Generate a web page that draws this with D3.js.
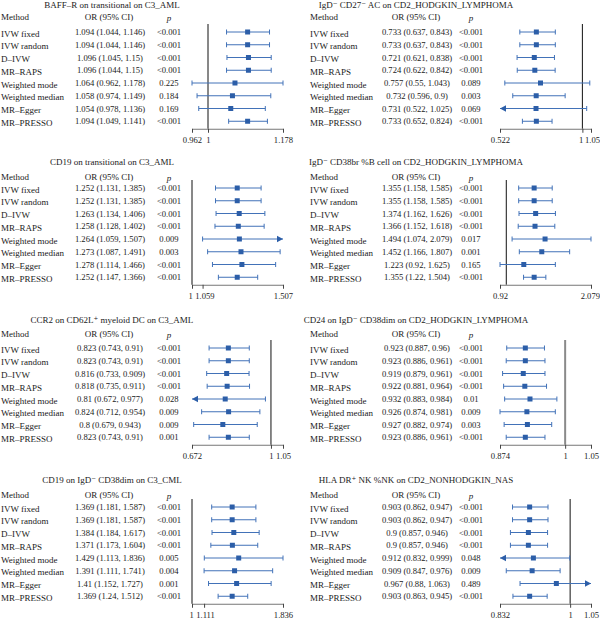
<!DOCTYPE html>
<html>
<head>
<meta charset="utf-8">
<script src="https://cdn.jsdelivr.net/npm/d3@7"></script>
<style>
  body { margin: 0; background: #fff; }
  text { font-family: "Liberation Serif", "DejaVu Serif", serif; fill: #1a1a1a; }
</style>
</head>
<body>
<div id="chart"></div>
<script>
// methods shared by every panel
const methods = ["IVW fixed", "IVW random", "D–IVW", "MR–RAPS", "Weighted mode", "Weighted median", "MR–Egger", "MR–PRESSO"];

const titles = [
  "BAFF–R on transitional on C3_AML",
  "IgD⁻ CD27⁻ AC on CD2_HODGKIN_LYMPHOMA",
  "CD19 on transitional on C3_AML",
  "IgD⁻ CD38br %B cell on CD2_HODGKIN_LYMPHOMA",
  "CCR2 on CD62L⁺ myeloid DC on C3_AML",
  "CD24 on IgD⁻ CD38dim on CD2_HODGKIN_LYMPHOMA",
  "CD19 on IgD⁻ CD38dim on C3_CML",
  "HLA DR⁺ NK %NK on CD2_NONHODGKIN_NAS"
];

// [OR, lower, upper, p] per method
const baffR = [[1.094, 1.044, 1.146, "<0.001"], [1.094, 1.044, 1.146, "<0.001"], [1.096, 1.045, 1.15, "<0.001"], [1.096, 1.044, 1.15, "<0.001"],
  [1.064, 0.962, 1.178, "0.225"], [1.058, 0.974, 1.149, "0.184"], [1.054, 0.978, 1.136, "0.169"], [1.094, 1.049, 1.141, "<0.001"]];
const igdCd27 = [[0.733, 0.637, 0.843, "<0.001"], [0.733, 0.637, 0.843, "<0.001"], [0.721, 0.621, 0.838, "<0.001"], [0.724, 0.622, 0.842, "<0.001"],
  [0.757, 0.55, 1.043, "0.089"], [0.732, 0.596, 0.9, "0.003"], [0.731, 0.522, 1.025, "0.069"], [0.733, 0.652, 0.824, "<0.001"]];
const cd19Trans = [[1.252, 1.131, 1.385, "<0.001"], [1.252, 1.131, 1.385, "<0.001"], [1.263, 1.134, 1.406, "<0.001"], [1.258, 1.128, 1.402, "<0.001"],
  [1.264, 1.059, 1.507, "0.009"], [1.273, 1.087, 1.491, "0.003"], [1.278, 1.114, 1.466, "<0.001"], [1.252, 1.147, 1.366, "<0.001"]];
const igdCd38br = [[1.355, 1.158, 1.585, "<0.001"], [1.355, 1.158, 1.585, "<0.001"], [1.374, 1.162, 1.626, "<0.001"], [1.366, 1.152, 1.618, "<0.001"],
  [1.494, 1.074, 2.079, "0.017"], [1.452, 1.166, 1.807, "0.001"], [1.223, 0.92, 1.625, "0.165"], [1.355, 1.22, 1.504, "<0.001"]];
const ccr2 = [[0.823, 0.743, 0.91, "<0.001"], [0.823, 0.743, 0.91, "<0.001"], [0.816, 0.733, 0.909, "<0.001"], [0.818, 0.735, 0.911, "<0.001"],
  [0.81, 0.672, 0.977, "0.028"], [0.824, 0.712, 0.954, "0.009"], [0.8, 0.679, 0.943, "0.009"], [0.823, 0.743, 0.91, "0.001"]];
const cd24 = [[0.923, 0.887, 0.96, "<0.001"], [0.923, 0.886, 0.961, "<0.001"], [0.919, 0.879, 0.961, "<0.001"], [0.922, 0.881, 0.964, "<0.001"],
  [0.932, 0.883, 0.984, "0.01"], [0.926, 0.874, 0.981, "0.009"], [0.927, 0.882, 0.974, "0.003"], [0.923, 0.886, 0.961, "<0.001"]];
const cd19Cml = [[1.369, 1.181, 1.587, "<0.001"], [1.369, 1.181, 1.587, "<0.001"], [1.384, 1.184, 1.617, "<0.001"], [1.371, 1.173, 1.604, "<0.001"],
  [1.429, 1.113, 1.836, "0.005"], [1.391, 1.111, 1.741, "0.004"], [1.41, 1.152, 1.727, "0.001"], [1.369, 1.24, 1.512, "<0.001"]];
const hlaDr = [[0.903, 0.862, 0.947, "<0.001"], [0.903, 0.862, 0.947, "<0.001"], [0.9, 0.857, 0.946, "<0.001"], [0.9, 0.857, 0.946, "<0.001"],
  [0.912, 0.832, 0.999, "0.048"], [0.909, 0.847, 0.976, "0.009"], [0.967, 0.88, 1.063, "0.489"], [0.903, 0.863, 0.945, "<0.001"]];

const panelRows = [baffR, igdCd27, cd19Trans, igdCd38br, ccr2, cd24, cd19Cml, hlaDr];

// axis tick values (first and last are the axis limits)
const tickSets = [
  [0.962, 1, 1.178], [0.522, 1, 1.05],
  [1, 1.059, 1.507], [0.92, 2.079],
  [0.672, 1, 1.05], [0.874, 1, 1.05],
  [1, 1.111, 1.836], [0.832, 1, 1.05]
];

// clipped intervals drawn with an arrow head: row index -> side
const arrowSets = [{}, { 6: "left" }, { 4: "right" }, {}, { 4: "left" }, {}, {}, { 4: "left", 6: "right" }];

const width = 600, height = 619;
// per row of panels: title baseline, header centre, first row centre
const titleY = [8, 165, 323, 483];
const headerY = [16.5, 177, 334, 494.5];
const rowStart = [32, 188, 348, 507];
const step = 12.75;
const lineColor = "#4272b8", boxColor = "#2c5ea8";

const svg = d3.select("#chart").append("svg")
  .attr("width", width).attr("height", height);

panelRows.forEach((rows, i) => {
  const col = i % 2, r = Math.floor(i / 2);
  const y0 = rowStart[r];
  const cols = col === 0
    ? { method: 1, or: 110, p: 169, title: 112, plot: [192, 283] }
    : { method: 310, or: 417, p: 471, title: 416, plot: [500, 591] };

  const ticks = tickSets[i];
  const x = d3.scaleLinear().domain(d3.extent(ticks)).range(cols.plot);
  const y = d3.scalePoint().domain(methods).range([y0, y0 + step * 7]);
  const axisY = y0 + step * 7 + 7.5;

  const g = svg.append("g");

  // title
  g.append("text")
    .attr("x", cols.title).attr("y", titleY[r])
    .attr("text-anchor", "middle").attr("font-size", 9)
    .text(titles[i]);

  // header
  const hy = headerY[r];
  g.append("text").attr("x", cols.method).attr("y", hy).attr("dy", "0.35em")
    .attr("font-size", 9).text("Method");
  g.append("text").attr("x", cols.or - 1).attr("y", hy).attr("dy", "0.35em")
    .attr("text-anchor", "middle").attr("font-size", 9).text("OR (95% CI)");
  g.append("text").attr("x", cols.p).attr("y", hy + 1).attr("dy", "0.35em")
    .attr("text-anchor", "middle").attr("font-size", 9).attr("font-style", "italic").text("p");

  // table columns
  rows.forEach((d, j) => {
    const yy = y(methods[j]);
    g.append("text").attr("x", cols.method).attr("y", yy + 1.5).attr("dy", "0.35em")
      .attr("font-size", 9).text(methods[j]);
    g.append("text").attr("x", cols.or).attr("y", yy).attr("dy", "0.35em")
      .attr("text-anchor", "middle").attr("font-size", 8.6)
      .text(`${d[0]} (${d[1]}, ${d[2]})`);
    g.append("text").attr("x", cols.p).attr("y", yy).attr("dy", "0.35em")
      .attr("text-anchor", "middle").attr("font-size", 8.6).text(d[3]);
  });

  // reference line at OR = 1 (drawn grey and heavier in the CD24 panel)
  g.append("line")
    .attr("x1", x(1)).attr("x2", x(1))
    .attr("y1", y0 - 8).attr("y2", axisY)
    .attr("stroke", i === 5 ? "#8a8a8a" : "#111")
    .attr("stroke-width", i === 5 ? 2 : 1);

  // axis
  const axis = g.append("g")
    .attr("transform", `translate(0,${axisY})`)
    .call(d3.axisBottom(x).tickValues(ticks).tickFormat(d => String(d))
      .tickSize(4).tickSizeOuter(0).tickPadding(4));
  axis.select(".domain").attr("stroke", "#777");
  axis.selectAll(".tick line").attr("stroke", "#444");
  const labels = axis.selectAll("text").attr("font-size", 8.6)
    .style("font-family", '"Liberation Serif", "DejaVu Serif", serif').attr("fill", "#1a1a1a");

  // push apart tick labels that would collide, keep them inside the page
  const info = labels.nodes().map((n, k) => ({ n, cx: x(ticks[k]), w: n.getComputedTextLength(), dx: 0 }));
  for (let k = 1; k < info.length; k++) {
    const a = info[k - 1], b = info[k];
    const need = (a.w + b.w) / 2 + 2.5 - ((b.cx + b.dx) - (a.cx + a.dx));
    if (need > 0) { a.dx -= need / 2; b.dx += need / 2; }
  }
  info.forEach(t => {
    const right = t.cx + t.dx + t.w / 2;
    if (right > width - 0.5) t.dx -= right - (width - 0.5);
    d3.select(t.n).attr("dx", t.dx);
  });

  // intervals
  const arrows = arrowSets[i];
  rows.forEach((d, j) => {
    const yy = y(methods[j]);
    const lo = x(Math.max(d[1], x.domain()[0]));
    const hi = x(Math.min(d[2], x.domain()[1]));
    const side = arrows[j];
    g.append("line")
      .attr("x1", lo).attr("x2", hi).attr("y1", yy).attr("y2", yy)
      .attr("stroke", lineColor).attr("stroke-width", 1);
    if (side !== "left") {
      g.append("line").attr("x1", lo).attr("x2", lo).attr("y1", yy - 2.5).attr("y2", yy + 2.5)
        .attr("stroke", lineColor).attr("stroke-width", 1);
    } else {
      g.append("path")
        .attr("d", `M${lo},${yy}L${lo + 6},${yy - 3.2}L${lo + 6},${yy + 3.2}Z`)
        .attr("fill", boxColor);
    }
    if (side !== "right") {
      g.append("line").attr("x1", hi).attr("x2", hi).attr("y1", yy - 2.5).attr("y2", yy + 2.5)
        .attr("stroke", lineColor).attr("stroke-width", 1);
    } else {
      g.append("path")
        .attr("d", `M${hi},${yy}L${hi - 6},${yy - 3.2}L${hi - 6},${yy + 3.2}Z`)
        .attr("fill", boxColor);
    }
    g.append("rect")
      .attr("x", x(d[0]) - 2.5).attr("y", yy - 2.5)
      .attr("width", 5).attr("height", 5)
      .attr("fill", boxColor);
  });
});
</script>
</body>
</html>
